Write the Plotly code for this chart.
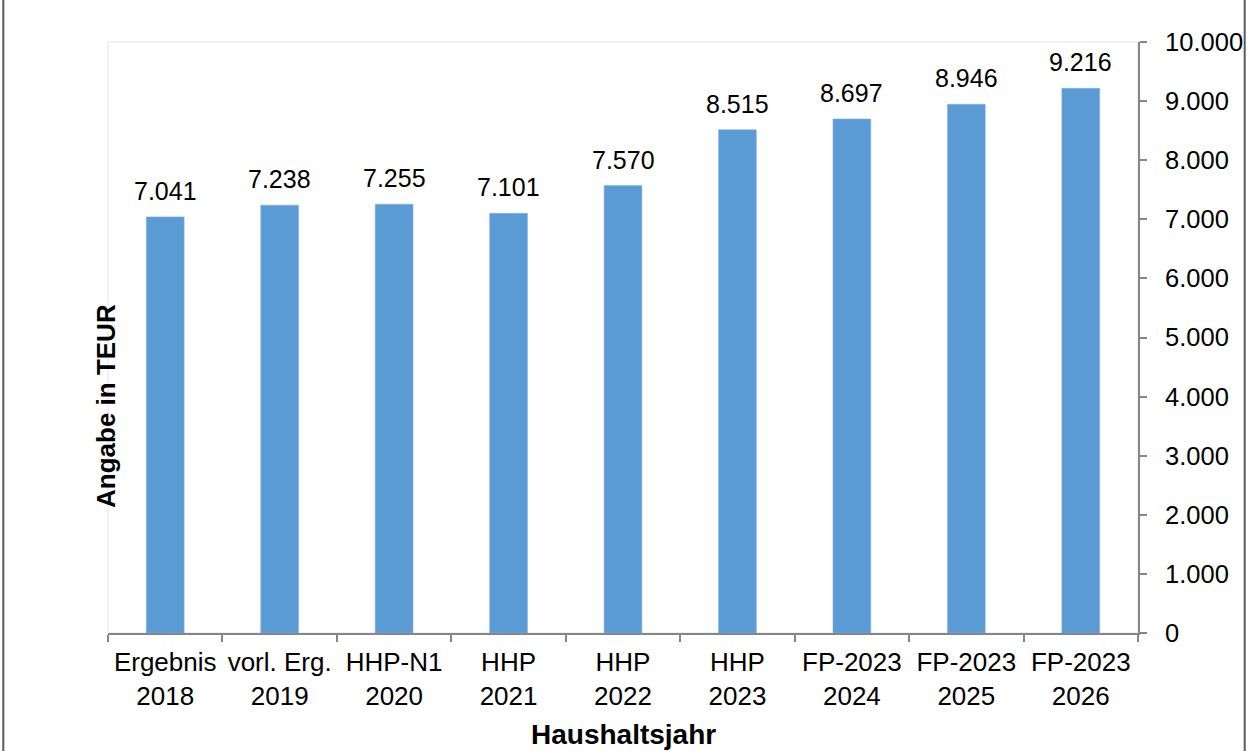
import plotly.graph_objects as go

# Budget years and expenditure (TEUR)
categories = [
    "Ergebnis<br>2018", "vorl. Erg.<br>2019", "HHP-N1<br>2020", "HHP<br>2021",
    "HHP<br>2022", "HHP<br>2023", "FP-2023<br>2024", "FP-2023<br>2025", "FP-2023<br>2026",
]
values = [7041, 7238, 7255, 7101, 7570, 8515, 8697, 8946, 9216]
y_ticks = [0, 1000, 2000, 3000, 4000, 5000, 6000, 7000, 8000, 9000, 10000]

W, H = 1255, 751
ML, MR, MT, MB = 108, 114, 42, 118
PW, PH = W - ML - MR, H - MT - MB

FONT = "Liberation Sans, Arial, sans-serif"
AXIS_GREY = "#868686"
BAR_BLUE = "#5B9BD5"


def px_x(px):
    return (px - ML) / PW


def px_y(py):
    return (H - MB - py) / PH


def de_fmt(v):
    return f"{v:,}".replace(",", ".")


fig = go.Figure(
    go.Bar(
        x=categories,
        y=values,
        marker=dict(color=BAR_BLUE, line=dict(color="#7FB2E0", width=0.6)),
        width=0.33,
        hoverinfo="skip",
    )
)

# value labels above each bar
annotations = [
    dict(
        x=c, y=v, xref="x", yref="y", text=de_fmt(v), showarrow=False,
        yanchor="bottom", yshift=10, font=dict(size=25, color="#000000", family=FONT),
    )
    for c, v in zip(categories, values)
]

annotations.append(dict(
    x=px_x(106), y=px_y(406), xref="paper", yref="paper", text="<b>Angabe in TEUR</b>",
    textangle=-90, showarrow=False, xanchor="center", yanchor="middle",
    font=dict(size=26, color="#000000", family=FONT),
))
annotations.append(dict(
    x=0.5, y=px_y(734), xref="paper", yref="paper", text="<b>Haushaltsjahr</b>",
    showarrow=False, xanchor="center", yanchor="middle",
    font=dict(size=28, color="#000000", family=FONT),
))

shapes = [
    # plot area outline
    dict(type="rect", xref="paper", yref="paper", x0=0, x1=1, y0=0, y1=1,
         line=dict(color="#EDEDED", width=1.5), layer="below"),
    # outer frame (left and right edges)
    dict(type="line", xref="paper", yref="paper", x0=px_x(3), x1=px_x(3),
         y0=px_y(H), y1=px_y(0), line=dict(color="#5A5A5A", width=2)),
    dict(type="line", xref="paper", yref="paper", x0=px_x(1248), x1=px_x(1248),
         y0=px_y(H), y1=px_y(0), line=dict(color="#5A5A5A", width=2)),
]

fig.update_layout(
    width=W, height=H,
    margin=dict(l=ML, r=MR, t=MT, b=MB, pad=0),
    paper_bgcolor="#FFFFFF", plot_bgcolor="#FFFFFF",
    separators=",.",
    showlegend=False,
    font=dict(family=FONT, size=24, color="#000000"),
    annotations=annotations,
    shapes=shapes,
    xaxis=dict(
        type="category", showgrid=False, showline=True, linecolor=AXIS_GREY, linewidth=2,
        ticks="outside", ticklen=7, tickcolor=AXIS_GREY, tickwidth=2, tickson="boundaries",
        tickfont=dict(size=26, color="#000000", family=FONT), zeroline=False,
        ticklabelstandoff=5,
    ),
    yaxis=dict(
        side="right", range=[0, 10000], tickvals=y_ticks, tickformat=",.0f",
        showgrid=False, showline=True, linecolor=AXIS_GREY, linewidth=2,
        ticks="outside", ticklen=7, tickcolor=AXIS_GREY, tickwidth=2,
        tickfont=dict(size=25.5, color="#000000", family=FONT), zeroline=False,
        ticklabelstandoff=13,
    ),
)

fig.write_html("out.html")
